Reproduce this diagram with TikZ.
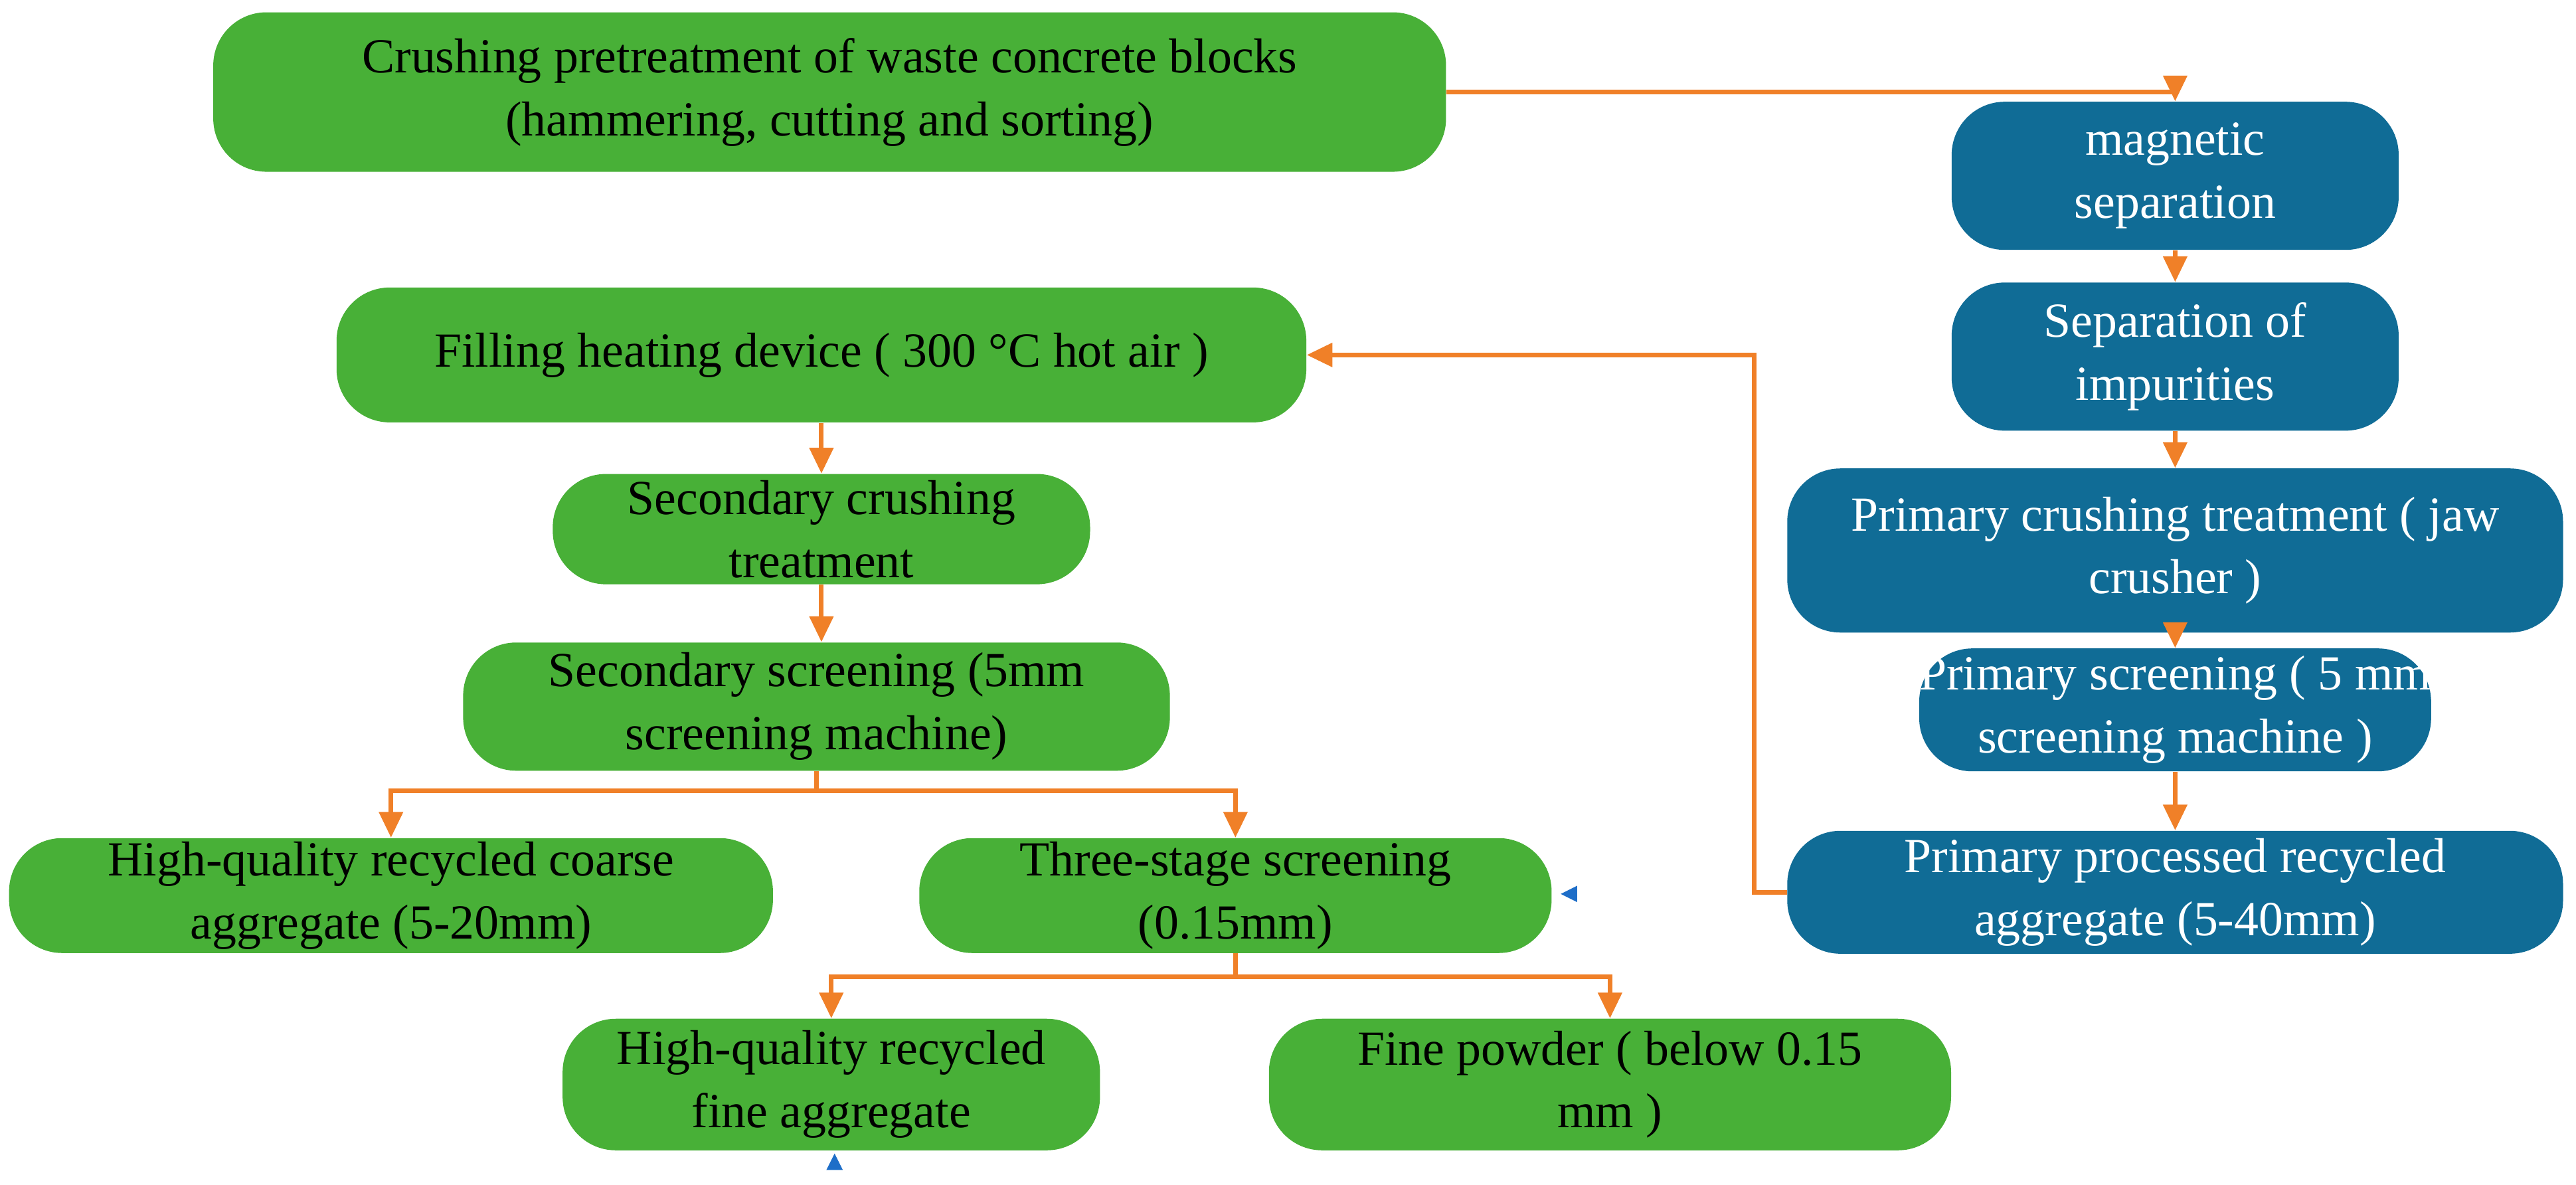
\documentclass[tikz,border=0pt]{standalone}
\usepackage{fontspec}
\setmainfont{Liberation Serif}
\usetikzlibrary{arrows.meta}
\definecolor{boxgreen}{RGB}{72,176,55}
\definecolor{boxblue}{RGB}{16,108,150}
\definecolor{linkorange}{RGB}{240,128,40}
\definecolor{markblue}{RGB}{30,110,200}
\begin{document}
\begin{tikzpicture}[x=0.02474cm,y=-0.02474cm,
	stage/.style={rectangle, rounded corners=0.8cm, fill=boxgreen, align=center,
	font=\fontsize{21}{27}\selectfont, inner sep=0pt},
	pre/.style={stage, fill=boxblue, text=white},
	link/.style={draw=linkorange, line width=2pt, -{Triangle[length=11pt,width=10pt]}},
	>=Triangle]
\useasboundingbox (0,0) rectangle (1568,721);

\node[stage,minimum width=18.56cm,minimum height=2.4cm] at (505,56) (crush)
	{Crushing pretreatment of waste concrete blocks\\(hammering, cutting and sorting)};
\node[pre,minimum width=6.73cm,minimum height=2.23cm] at (1324,107) (magnet) {magnetic\\separation};
\node[pre,minimum width=6.73cm,minimum height=2.23cm] at (1324,217) (impur) {Separation of\\impurities};
\node[pre,minimum width=11.68cm,minimum height=2.47cm] at (1324,335) (jaw) {Primary crushing treatment ( jaw\\crusher )};
\node[pre,minimum width=6.73cm,minimum height=1.85cm] at (1324,432) (pscreen) {Primary screening ( 5 mm\\screening machine )};
\node[pre,minimum width=11.68cm,minimum height=1.85cm] at (1324,543) (paggr) {Primary processed recycled\\aggregate (5-40mm)};

\node[stage,minimum width=14.6cm,minimum height=2.03cm] at (500,216) (heat) {Filling heating device ( 300 °C hot air )};
\node[stage,minimum width=8.09cm,minimum height=1.66cm] at (500,322) (scrush) {Secondary crushing\\treatment};
\node[stage,minimum width=10.64cm,minimum height=1.93cm] at (497,430) (sscreen) {Secondary screening (5mm\\screening machine)};
\node[stage,minimum width=11.5cm,minimum height=1.73cm] at (238,545) (coarse) {High-quality recycled coarse\\aggregate (5-20mm)};
\node[stage,minimum width=9.52cm,minimum height=1.73cm] at (752,545) (three) {Three-stage screening\\(0.15mm)};
\node[stage,minimum width=8.09cm,minimum height=1.98cm] at (506,660) (fineagg) {High-quality recycled\\fine aggregate};
\node[stage,minimum width=10.27cm,minimum height=1.98cm] at (980,660) (powder) {Fine powder ( below 0.15\\mm )};

\draw[link] (crush.east) -| (magnet.north);
\draw[link] (magnet) -- (impur);
\draw[link] (impur) -- (jaw);
\draw[link] (jaw) -- (pscreen);
\draw[link] (pscreen) -- (paggr);
\draw[link] (paggr.west) -- ++(-20,0) |- (heat.east);
\draw[link] (heat) -- (scrush);
\draw[link] (scrush.south) -- (scrush.south |- sscreen.north);
\draw[link] (sscreen.south) -- ++(0,12) -| (coarse.north);
\draw[link] (sscreen.south) -- ++(0,12) -| (three.north);
\draw[link] (three.south) -- ++(0,14) -| (fineagg.north);
\draw[link] (three.south) -- ++(0,14) -| (powder.north);

\fill[markblue] (950,544) -- (960,539) -- (960,549) -- cycle;
\fill[markblue] (508,702) -- (503,712) -- (513,712) -- cycle;
\end{tikzpicture}
\end{document}
